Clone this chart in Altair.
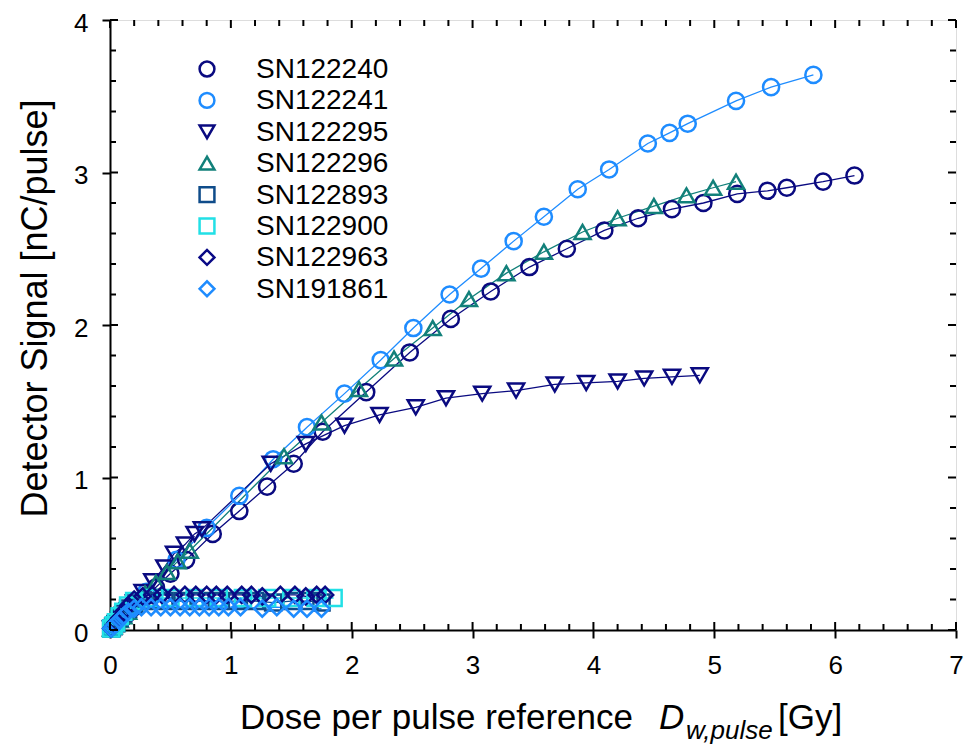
import altair as alt
import pandas as pd

# ---------------- data ----------------
series_names = ["SN122240", "SN122241", "SN122295", "SN122296",
                "SN122893", "SN122900", "SN122963", "SN191861"]

x_122240 = [0.01, 0.03, 0.05, 0.08, 0.11, 0.15, 0.20, 0.28, 0.38, 0.50, 0.63, 0.85, 1.07, 1.30,
            1.52, 1.76, 2.12, 2.48, 2.82, 3.15, 3.47, 3.78, 4.09, 4.37, 4.65, 4.91, 5.19, 5.44,
            5.60, 5.90, 6.16]
y_122240 = [0.01, 0.02, 0.04, 0.06, 0.08, 0.11, 0.15, 0.21, 0.28, 0.37, 0.46, 0.63, 0.78, 0.94,
            1.09, 1.30, 1.56, 1.82, 2.04, 2.22, 2.38, 2.50, 2.62, 2.70, 2.76, 2.80, 2.86, 2.88,
            2.90, 2.94, 2.98]

x_122241 = [0.01, 0.03, 0.05, 0.08, 0.11, 0.15, 0.20, 0.30, 0.55, 0.80, 1.07, 1.35, 1.63, 1.94,
            2.24, 2.51, 2.81, 3.07, 3.34, 3.59, 3.87, 4.13, 4.45, 4.63, 4.78, 5.18, 5.47, 5.82]
y_122241 = [0.01, 0.025, 0.04, 0.07, 0.09, 0.13, 0.17, 0.25, 0.46, 0.67, 0.88, 1.12, 1.33, 1.55,
            1.77, 1.98, 2.20, 2.37, 2.55, 2.71, 2.89, 3.02, 3.19, 3.26, 3.32, 3.47, 3.56, 3.64]

x_122295 = [0.01, 0.03, 0.05, 0.08, 0.11, 0.15, 0.20, 0.27, 0.35, 0.45, 0.53, 0.62, 0.70, 0.76,
            1.33, 1.62, 1.94, 2.23, 2.53, 2.78, 3.08, 3.36, 3.68, 3.94, 4.20, 4.42, 4.65, 4.88]
y_122295 = [0.01, 0.026, 0.045, 0.07, 0.10, 0.13, 0.18, 0.25, 0.32, 0.41, 0.50, 0.56, 0.63, 0.66,
            1.09, 1.22, 1.34, 1.41, 1.46, 1.52, 1.55, 1.57, 1.61, 1.62, 1.63, 1.65, 1.66, 1.67]

x_122296 = [0.01, 0.03, 0.05, 0.08, 0.11, 0.15, 0.20, 0.29, 0.38, 0.47, 0.56, 0.66, 1.44, 1.75,
            2.06, 2.35, 2.67, 2.97, 3.28, 3.59, 3.91, 4.20, 4.50, 4.77, 4.99, 5.18]
y_122296 = [0.01, 0.025, 0.04, 0.065, 0.09, 0.12, 0.16, 0.24, 0.31, 0.38, 0.45, 0.52, 1.14, 1.36,
            1.58, 1.78, 1.98, 2.17, 2.34, 2.48, 2.61, 2.70, 2.78, 2.85, 2.90, 2.94]

x_122893 = [0.01, 0.03, 0.05, 0.08, 0.11, 0.15, 0.20, 0.30, 0.45, 0.60, 0.75, 0.90, 1.05, 1.20,
            1.35, 1.50, 1.65, 1.75]
y_122893 = [0.01, 0.025, 0.045, 0.08, 0.11, 0.14, 0.17, 0.19, 0.19, 0.19, 0.19, 0.19, 0.19, 0.19,
            0.18, 0.19, 0.19, 0.18]

x_122900 = [0.01, 0.03, 0.05, 0.08, 0.11, 0.15, 0.20, 0.32, 0.50, 0.70, 0.90, 1.10, 1.30, 1.50,
            1.70, 1.85]
y_122900 = [0.01, 0.03, 0.05, 0.09, 0.12, 0.16, 0.19, 0.21, 0.21, 0.21, 0.21, 0.21, 0.21, 0.21,
            0.21, 0.21]

x_122963 = [0.01, 0.03, 0.05, 0.08, 0.11, 0.15, 0.20, 0.27, 0.35, 0.43, 0.53, 0.62, 0.71, 0.80,
            0.88, 0.97, 1.09, 1.17, 1.26, 1.41, 1.53, 1.62, 1.71, 1.78]
y_122963 = [0.01, 0.03, 0.05, 0.08, 0.12, 0.16, 0.20, 0.22, 0.23, 0.23, 0.23, 0.23, 0.23, 0.23,
            0.23, 0.23, 0.23, 0.23, 0.22, 0.23, 0.23, 0.22, 0.23, 0.23]

x_191861 = [0.01, 0.03, 0.05, 0.08, 0.11, 0.15, 0.20, 0.26, 0.34, 0.42, 0.50, 0.58, 0.66, 0.74,
            0.82, 0.90, 0.98, 1.08, 1.26, 1.38, 1.52, 1.63, 1.75]
y_191861 = [0.01, 0.025, 0.04, 0.065, 0.09, 0.12, 0.14, 0.15, 0.15, 0.15, 0.15, 0.15, 0.15, 0.15,
            0.15, 0.15, 0.15, 0.15, 0.14, 0.15, 0.14, 0.14, 0.14]

series_x = [x_122240, x_122241, x_122295, x_122296, x_122893, x_122900, x_122963, x_191861]
series_y = [y_122240, y_122241, y_122295, y_122296, y_122893, y_122900, y_122963, y_191861]

colors = ["#0a0a80", "#1e8cff", "#0a0a80", "#12807a", "#0f4c8a", "#22e0e6", "#0a0a86", "#1e8cff"]
shapes = ["circle", "circle", "triangle-down", "triangle-up", "square", "square", "diamond", "diamond"]

x_major = [0, 1, 2, 3, 4, 5, 6, 7]
y_major = [0, 1, 2, 3, 4]
x_minor = [round(i * 0.2, 1) for i in range(1, 35) if i % 5 != 0]
y_minor = [round(i * 0.2, 1) for i in range(1, 20) if i % 5 != 0]

rows = []
for name, xs, ys in zip(series_names, series_x, series_y):
    for i, (a, b) in enumerate(zip(xs, ys)):
        rows.append({"series": name, "dose": a, "signal": b, "order": i})
df = pd.DataFrame(rows)

# ---------------- layout ----------------
W, H = 846, 610
FONT = "Liberation Sans"

xscale = alt.Scale(domain=[0, 7], nice=False, zero=False)
yscale = alt.Scale(domain=[0, 4], nice=False, zero=False)
cscale = alt.Scale(domain=series_names, range=colors)
sscale = alt.Scale(domain=series_names, range=shapes)

xaxis = alt.Axis(values=x_major, format="d", title=None, labelFont=FONT,
                 labelFontSize=26, labelColor="black", labelPadding=14,
                 tickSize=8, tickWidth=2, tickColor="black", domainWidth=2,
                 domainColor="black", grid=False, labelFlush=False)
yaxis = alt.Axis(values=y_major, format="d", title="Detector Signal [nC/pulse]",
                 titleFont=FONT, titleFontSize=36, titleFontWeight="normal",
                 titleColor="black", titleX=-75, titleY=288, titleAngle=270,
                 titleBaseline="middle", titleAlign="center",
                 labelFont=FONT, labelFontSize=26, labelColor="black", labelOffset=3,
                 labelPadding=14, tickSize=8, tickWidth=2, tickColor="black",
                 domainWidth=2, domainColor="black", grid=False, labelFlush=False)

base = alt.Chart(df)

lines = base.mark_line(strokeWidth=1.3).encode(
    x=alt.X("dose:Q", scale=xscale, axis=xaxis),
    y=alt.Y("signal:Q", scale=yscale, axis=yaxis),
    color=alt.Color("series:N", scale=cscale, legend=None),
    detail="series:N",
    order="order:Q",
)

points = base.mark_point(filled=False, strokeWidth=2.5, size=260, opacity=1).encode(
    x=alt.X("dose:Q", scale=xscale, axis=xaxis),
    y=alt.Y("signal:Q", scale=yscale, axis=yaxis),
    color=alt.Color("series:N", scale=cscale, legend=None),
    shape=alt.Shape("series:N", scale=sscale, legend=None),
)

def ticks_x(vals, y0, y1):
    return alt.Chart(pd.DataFrame({"dose": vals})).mark_rule(color="black", strokeWidth=2).encode(
        x=alt.X("dose:Q", scale=xscale, axis=xaxis), y=alt.value(y0), y2=alt.value(y1))

def ticks_y(vals, x0, x1):
    return alt.Chart(pd.DataFrame({"signal": vals})).mark_rule(color="black", strokeWidth=2).encode(
        y=alt.Y("signal:Q", scale=yscale, axis=yaxis), x=alt.value(x0), x2=alt.value(x1))

tick_layers = [
    ticks_x(x_major, H, H - 8), ticks_x(x_minor, H, H - 6),
    ticks_x(x_major, 0, 8), ticks_x(x_minor, 0, 6),
    ticks_y(y_major, 0, 8), ticks_y(y_minor, 0, 6),
    ticks_y(y_major, W, W - 8), ticks_y(y_minor, W, W - 6),
]

def label(text, x, y, size, italic=False, baseline="alphabetic"):
    return alt.Chart(pd.DataFrame({"t": [text]})).mark_text(
        font=FONT, fontSize=size, fontStyle="italic" if italic else "normal",
        align="left", baseline=baseline, color="black").encode(
        text="t:N", x=alt.value(x), y=alt.value(y))

title_layers = [
    label("Dose per pulse reference", 130, 709, 35),
    label("D", 549, 709, 35, italic=True),
    label("w,pulse", 576, 719, 26, italic=True),
    label("[Gy]", 668, 709, 35),
]

# hand-built legend (symbols + labels), colours and shapes via the shared scales
legend_layers = []
for i, name in enumerate(series_names):
    ly = 49 + 31.4 * i
    one = pd.DataFrame({"series": [name]})
    legend_layers.append(
        alt.Chart(one).mark_point(filled=False, strokeWidth=2.5, size=220, opacity=1).encode(
            x=alt.value(97), y=alt.value(ly),
            color=alt.Color("series:N", scale=cscale, legend=None),
            shape=alt.Shape("series:N", scale=sscale, legend=None)))
    legend_layers.append(label(name, 146, ly + 1, 28, baseline="middle"))

chart = alt.layer(lines, points, *tick_layers, *legend_layers, *title_layers).properties(
    width=W, height=H,
    autosize=alt.AutoSizeParams(type="none"),
    padding={"left": 102, "top": 12, "right": 8, "bottom": 116},
).configure_view(stroke="black", strokeWidth=2).configure(background="white")

chart.save("out.html", embed_options={"renderer": "svg", "actions": False})
